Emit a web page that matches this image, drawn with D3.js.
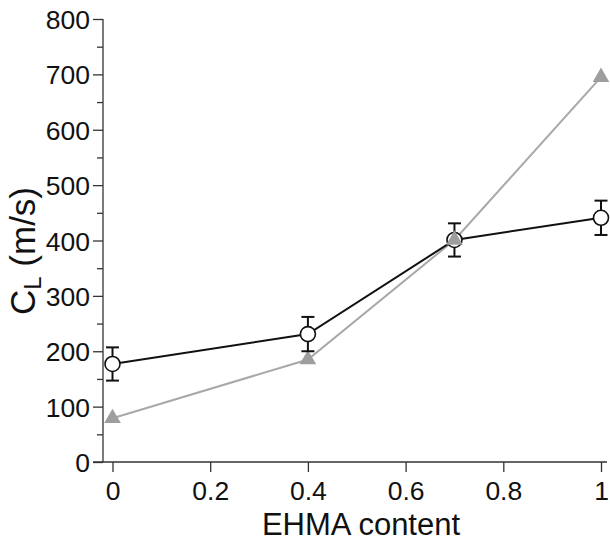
<!DOCTYPE html>
<html><head><meta charset="utf-8">
<script src="https://cdn.jsdelivr.net/npm/d3@7"></script>
<style>body{margin:0;background:#fff}svg{display:block}text{font-family:"Liberation Sans",Arial,sans-serif;fill:#111}</style>
</head><body>
<svg id="c" width="610" height="543"></svg>
<script>
const xValues = [0, 0.4, 0.7, 1];
const circleValues = [177, 231, 401, 441];
const circleErrors = [30, 31, 30, 31];
const triangleValues = [79, 185, 401, 695];
const xTicks = [0, 0.2, 0.4, 0.6, 0.8, 1];
const yTicks = [0, 100, 200, 300, 400, 500, 600, 700, 800];
const yMinorTicks = [50, 150, 250, 350, 450, 550, 650, 750];

const svg = d3.select("#c");
const x = d3.scaleLinear().domain([0, 1]).range([112.5, 601]);
const y = d3.scaleLinear().domain([0, 800]).range([462, 19]);
const axisX0 = 103;

// Y axis
const gy = svg.append("g").attr("transform", `translate(${axisX0},0)`)
  .call(d3.axisLeft(y).tickValues(yTicks).tickSize(10).tickPadding(3).tickFormat(d3.format("d")));
gy.attr("font-size", null).attr("font-family", null);
gy.select(".domain").attr("stroke", "#333").attr("stroke-width", 1.3).attr("d", `M0,${y(800)}V${y(0)}`);
gy.selectAll(".tick line").attr("stroke", "#333").attr("stroke-width", 1.3);
gy.selectAll(".tick text").style("font-size", "26.5px").attr("fill", "#111").attr("dy", "0.36em");
const gym = svg.append("g").attr("transform", `translate(${axisX0},0)`)
  .call(d3.axisLeft(y).tickValues(yMinorTicks).tickSize(6).tickFormat(""));
gym.select(".domain").remove();
gym.selectAll(".tick line").attr("stroke", "#333").attr("stroke-width", 1.3);

// X axis
const gx = svg.append("g").attr("transform", `translate(0,${y(0)})`)
  .call(d3.axisBottom(x).tickValues(xTicks).tickSize(10).tickPadding(9).tickFormat(d => d === 0 || d === 1 ? String(d) : d3.format(".1f")(d)));
gx.attr("font-size", null).attr("font-family", null);
gx.select(".domain").attr("stroke", "#333").attr("stroke-width", 1.3).attr("d", `M${axisX0 - 10},0H607`);
gx.selectAll(".tick line").attr("stroke", "#333").attr("stroke-width", 1.3);
gx.selectAll(".tick text").style("font-size", "26.5px").attr("fill", "#111").attr("dy", "0.71em");

// Axis titles
svg.append("text").attr("x", 361).attr("y", 535).attr("text-anchor", "middle")
  .style("font-size", "31px").text("EHMA content");
const yl = svg.append("text").attr("transform", `translate(35,251) rotate(-90)`).attr("text-anchor", "middle")
  .style("font-size", "35px");
yl.append("tspan").text("C");
yl.append("tspan").attr("dy", 6).style("font-size", "24px").text("L");
yl.append("tspan").attr("dy", -6).text(" (m/s)");

const line = d3.line().x(d => x(d[0])).y(d => y(d[1]));

// Gray triangle series
const triData = xValues.map((v, i) => [v, triangleValues[i]]);
svg.append("path").datum(triData).attr("d", line).attr("fill", "none").attr("stroke", "#a8a8a8").attr("stroke-width", 2);
svg.selectAll(".tri").data(triData).enter().append("path")
  .attr("transform", d => `translate(${x(d[0])},${y(d[1])})`)
  .attr("d", d3.symbol().type(d3.symbolTriangle).size(120))
  .attr("fill", "#9e9e9e");

// Black circle series
const cirData = xValues.map((v, i) => [v, circleValues[i], circleErrors[i]]);
svg.append("path").datum(cirData).attr("d", line).attr("fill", "none").attr("stroke", "#111").attr("stroke-width", 2);
const eb = svg.selectAll(".eb").data(cirData).enter().append("g");
eb.append("line").attr("x1", d => x(d[0])).attr("x2", d => x(d[0]))
  .attr("y1", d => y(d[1] + d[2])).attr("y2", d => y(d[1] - d[2])).attr("stroke", "#111").attr("stroke-width", 2);
eb.append("line").attr("x1", d => x(d[0]) - 6.5).attr("x2", d => x(d[0]) + 6.5)
  .attr("y1", d => y(d[1] + d[2])).attr("y2", d => y(d[1] + d[2])).attr("stroke", "#111").attr("stroke-width", 2);
eb.append("line").attr("x1", d => x(d[0]) - 6.5).attr("x2", d => x(d[0]) + 6.5)
  .attr("y1", d => y(d[1] - d[2])).attr("y2", d => y(d[1] - d[2])).attr("stroke", "#111").attr("stroke-width", 2);
svg.selectAll(".cir").data(cirData).enter().append("circle")
  .attr("cx", d => x(d[0])).attr("cy", d => y(d[1])).attr("r", 7.5)
  .attr("fill", "#fff").attr("stroke", "#111").attr("stroke-width", 1.6);

// triangle at 0.7 drawn on top (it overlaps circle in reference)
svg.append("path").attr("transform", `translate(${x(xValues[2])},${y(triangleValues[2])})`)
  .attr("d", d3.symbol().type(d3.symbolTriangle).size(120)).attr("fill", "#9e9e9e");
</script>
</body></html>
